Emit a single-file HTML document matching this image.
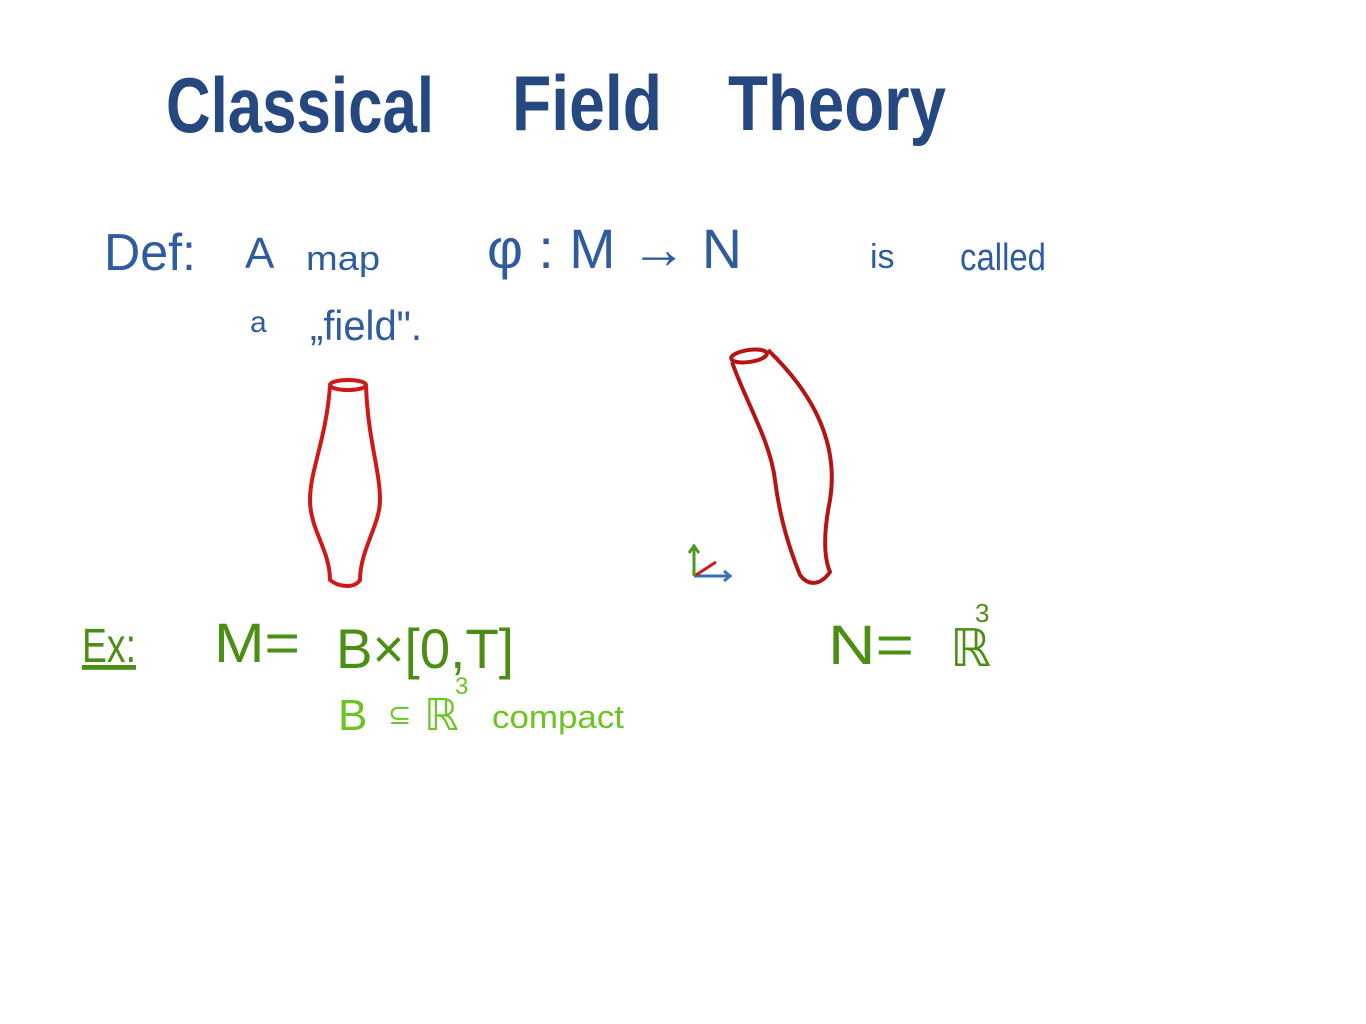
<!DOCTYPE html>
<html><head><meta charset="utf-8"><style>
html,body{margin:0;padding:0;background:#fff;}
svg{display:block}
text{font-family:"Liberation Sans",sans-serif;}
</style></head><body>
<svg width="1366" height="1024" viewBox="0 0 1366 1024" xmlns="http://www.w3.org/2000/svg">
<rect width="1366" height="1024" fill="#fff"/>
<g fill="#24487f" font-weight="bold">
<text x="166" y="132" font-size="78" textLength="268" lengthAdjust="spacingAndGlyphs">Classical</text>
<text x="512" y="130" font-size="78" textLength="150" lengthAdjust="spacingAndGlyphs">Field</text>
<text x="728" y="130" font-size="78" textLength="218" lengthAdjust="spacingAndGlyphs">Theory</text>
</g>
<g fill="#2e5c9e">
<text x="104" y="270" font-size="52" textLength="92" lengthAdjust="spacingAndGlyphs">Def:</text>
<text x="245" y="268" font-size="44">A</text>
<text x="306" y="270" font-size="34" textLength="74" lengthAdjust="spacingAndGlyphs">map</text>
<text x="487" y="268" font-size="56" textLength="255" lengthAdjust="spacingAndGlyphs">φ : M → N</text>
<text x="870" y="268" font-size="34">is</text>
<text x="960" y="270" font-size="38" textLength="86" lengthAdjust="spacingAndGlyphs">called</text>
<text x="250" y="332" font-size="30">a</text>
<text x="310" y="340" font-size="42" textLength="112" lengthAdjust="spacingAndGlyphs">„field".</text>
</g>
<g fill="none" stroke="#d01818" stroke-width="4" stroke-linejoin="round">
<ellipse cx="348" cy="385" rx="18" ry="5"/>
<path d="M330 386 C326 440 310 470 310 500 C310 530 330 550 330 580 C340 588 355 588 360 580 C360 550 380 525 380 500 C380 470 368 440 366 386"/>
</g>
<g fill="none" stroke="#b51414" stroke-width="4" stroke-linejoin="round">
<ellipse cx="749" cy="356" rx="18" ry="6" transform="rotate(-8 749 356)"/>
<path d="M732 362 C745 400 770 440 775 480 C780 520 790 550 800 575 C808 586 820 586 830 572 C825 560 822 540 830 500 C838 450 820 400 768 350"/>
</g>
<path d="M694 576 L730 576 M724 571 L730 576 L724 581" fill="none" stroke="#3a6fb5" stroke-width="3"/>
<path d="M694 548 L694 576 M689 553 L694 546 L699 553" fill="none" stroke="#4a9a1c" stroke-width="3"/>
<path d="M696 575 L716 562" stroke="#d01818" stroke-width="3"/>
<g fill="#4a8f14">
<text x="82" y="662" font-size="48" text-decoration="underline" textLength="54" lengthAdjust="spacingAndGlyphs">Ex:</text>
<text x="214" y="662" font-size="56" textLength="86" lengthAdjust="spacingAndGlyphs">M=</text>
<text x="336" y="668" font-size="56" textLength="178" lengthAdjust="spacingAndGlyphs">B×[0,T]</text>
<text x="828" y="664" font-size="56" textLength="86" lengthAdjust="spacingAndGlyphs">N=</text>
<text x="950" y="666" font-size="52">ℝ</text>
<text x="975" y="622" font-size="26">3</text>
</g>
<g fill="#6cc424">
<text x="338" y="730" font-size="44">B</text>
<text x="388" y="724" font-size="28">⊆</text>
<text x="424" y="730" font-size="44">ℝ</text>
<text x="455" y="694" font-size="24">3</text>
<text x="492" y="728" font-size="32" textLength="132" lengthAdjust="spacingAndGlyphs">compact</text>
</g>
</svg>
</body></html>
